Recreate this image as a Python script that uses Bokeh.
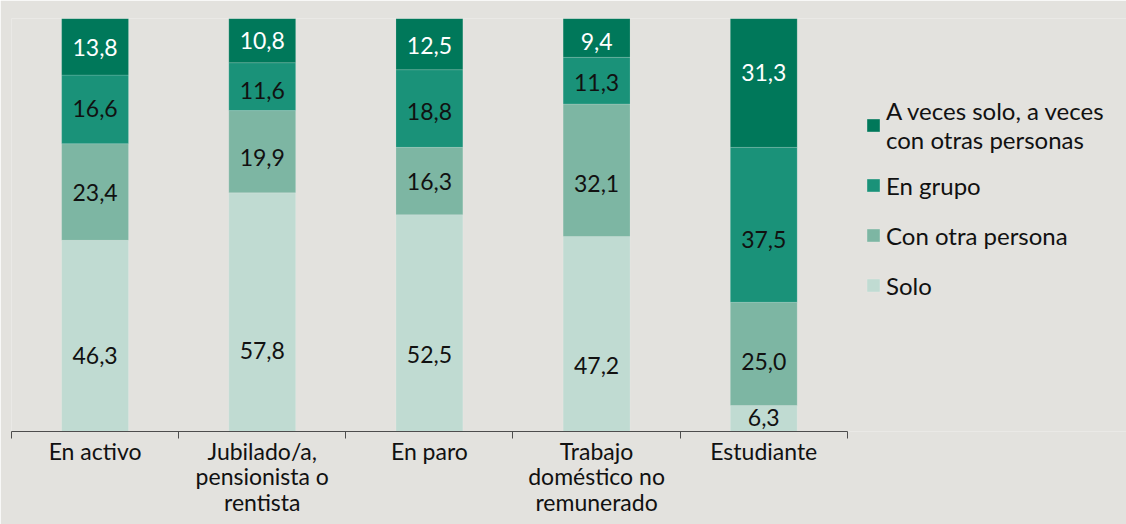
from bokeh.plotting import figure
from bokeh.models import Range1d, FixedTicker, Legend, LegendItem, ColumnDataSource
from bokeh.core.properties import value
from bokeh.embed import file_html
from bokeh.resources import INLINE

# ---- data ----
categories = ["En activo", "Jubilado/a,\npensionista o\nrentista", "En paro",
              "Trabajo\ndoméstico no\nremunerado", "Estudiante"]
series_labels = ["Solo", "Con otra persona", "En grupo",
                 "A veces solo, a veces\ncon otras personas"]
solo = [46.3, 57.8, 52.5, 47.2, 6.3]
con_otra = [23.4, 19.9, 16.3, 32.1, 25.0]
en_grupo = [16.6, 11.6, 18.8, 11.3, 37.5]
a_veces = [13.8, 10.8, 12.5, 9.4, 31.3]

# ---- style ----
keys = ["solo", "con_otra", "en_grupo", "a_veces"]
colors = ["#c0dbd2", "#7db6a3", "#1a9279", "#00785a"]
label_colors = ["#111111", "#111111", "#111111", "#ffffff"]
label_nudge = [  # pixel nudges of the value labels (per series, per category)
    [20, 38, 31, 31, -1],
    [1, 6, 0, 13, 8],
    [-1, 4, 3, 2, 15],
    [1, 0, 2, 4, -10],
]
FONT = "Lato"
BG = "#e3e2de"

values = [solo, con_otra, en_grupo, a_veces]
xs = [i + 0.5 for i in range(len(categories))]

src = ColumnDataSource(data=dict(x=xs, **{k: v for k, v in zip(keys, values)}))

p = figure(width=1126, height=524, output_backend="svg", toolbar_location=None,
           x_range=Range1d(0, 6.67), y_range=Range1d(0, 100),
           min_border_left=11, min_border_right=0, min_border_top=18,
           min_border_bottom=93)
p.background_fill_color = BG
p.border_fill_color = BG
p.outline_line_color = None
p.grid.visible = False
p.yaxis.visible = False

renderers = p.vbar_stack(keys, x="x", width=0.4, color=colors, source=src,
                         line_color="white", line_alpha=0.15, line_width=1)

# value labels
cum = [0.0] * len(categories)
for j, vals in enumerate(values):
    mids = [c + v / 2 for c, v in zip(cum, vals)]
    cum = [c + v for c, v in zip(cum, vals)]
    lsrc = ColumnDataSource(data=dict(
        x=xs, y=mids, t=[f"{v:.1f}".replace(".", ",") for v in vals],
        dy=label_nudge[j]))
    p.text(x="x", y="y", text="t", source=lsrc, y_offset="dy",
           text_align="center", text_baseline="middle",
           text_font=value(FONT), text_font_size="23px",
           text_color=label_colors[j])

# x axis
ax = p.xaxis[0]
ax.ticker = FixedTicker(ticks=xs, minor_ticks=list(range(len(categories) + 1)))
ax.major_label_overrides = {x: c for x, c in zip(xs, categories)}
ax.bounds = (0, len(categories))
ax.major_tick_line_color = None
ax.major_tick_out = 0
ax.major_tick_in = 0
ax.minor_tick_line_color = "#4d4d4d"
ax.minor_tick_out = 7
ax.minor_tick_in = 0
ax.axis_line_color = "#4d4d4d"
ax.major_label_text_font = FONT
ax.major_label_text_font_size = "23px"
ax.major_label_text_line_height = 0.92
ax.major_label_text_color = "#111111"
ax.major_label_standoff = -2

legend = Legend(items=[LegendItem(label=series_labels[j], renderers=[renderers[j]])
                       for j in reversed(range(len(keys)))],
                location=(854, 127))
legend.padding = 0
legend.margin = 0
legend.border_line_color = None
legend.background_fill_alpha = 0
legend.glyph_width = 16
legend.glyph_height = 16
legend.label_standoff = 5
legend.label_height = 38
legend.spacing = 12
legend.label_text_font = FONT
legend.label_text_font_size = "24px"
legend.label_text_line_height = 1.15
legend.label_text_color = "#111111"
p.add_layout(legend)

open("out.html", "w").write(file_html(p, INLINE))
